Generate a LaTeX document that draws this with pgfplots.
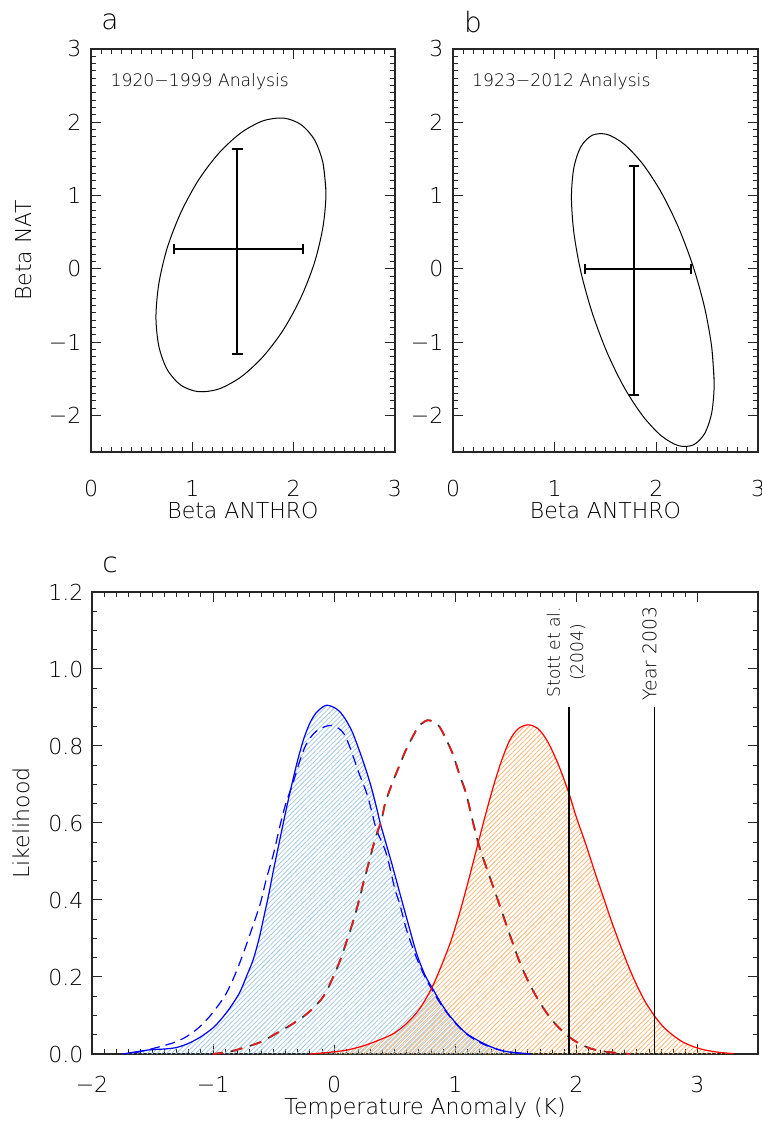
\documentclass[border=0pt]{standalone}
\usepackage{fontspec}
\IfFontExistsTF{DejaVu Sans ExtraLight}{\setmainfont{DejaVu Sans ExtraLight}}{\setmainfont{DejaVu Sans}}
\usepackage{pgfplots}
\usepackage{pgfplotstable}
\pgfplotsset{compat=1.18}
\usetikzlibrary{patterns.meta}
\definecolor{hatchblue}{RGB}{160,198,225}
\definecolor{hatchorange}{RGB}{250,180,110}
\definecolor{dred}{RGB}{220,30,30}

\pgfplotstableread{
x y
-1.75 0.000
-1.65 0.005
-1.52 0.011
-1.40 0.013
-1.30 0.017
-1.20 0.028
-1.10 0.045
-1.00 0.068
-0.94 0.088
-0.86 0.120
-0.78 0.160
-0.72 0.205
-0.67 0.244
-0.62 0.300
-0.585 0.350
-0.54 0.415
-0.50 0.480
-0.45 0.555
-0.40 0.630
-0.35 0.700
-0.30 0.765
-0.25 0.820
-0.20 0.860
-0.15 0.886
-0.10 0.900
-0.06 0.906
0.00 0.900
0.05 0.888
0.10 0.866
0.15 0.836
0.20 0.795
0.25 0.750
0.30 0.700
0.35 0.640
0.38 0.600
0.43 0.545
0.48 0.490
0.54 0.420
0.61 0.340
0.68 0.262
0.75 0.205
0.82 0.166
0.89 0.128
0.96 0.097
1.03 0.072
1.09 0.054
1.16 0.040
1.23 0.028
1.30 0.018
1.37 0.010
1.45 0.005
1.56 0.002
1.62 0.000
}\bluesolid

\pgfplotstableread{
x y
-0.20 0.000
-0.05 0.004
0.10 0.010
0.25 0.022
0.40 0.040
0.50 0.055
0.60 0.080
0.70 0.115
0.80 0.168
0.88 0.225
0.96 0.290
1.03 0.360
1.10 0.440
1.17 0.525
1.24 0.610
1.31 0.690
1.38 0.760
1.45 0.815
1.52 0.845
1.60 0.855
1.67 0.848
1.73 0.828
1.79 0.795
1.86 0.745
1.94 0.676
2.00 0.615
2.08 0.543
2.15 0.475
2.22 0.410
2.29 0.345
2.36 0.285
2.43 0.228
2.50 0.178
2.57 0.135
2.65 0.097
2.72 0.070
2.80 0.048
2.88 0.031
2.96 0.020
3.04 0.012
3.14 0.006
3.22 0.003
3.30 0.001
}\redsolid

\pgfplotstableread{
x y
-1.65 0.003
-1.55 0.010
-1.44 0.019
-1.32 0.030
-1.22 0.045
-1.12 0.068
-1.03 0.097
-0.96 0.125
-0.89 0.158
-0.82 0.205
-0.75 0.262
-0.68 0.325
-0.61 0.391
-0.56 0.455
-0.50 0.521
-0.45 0.590
-0.40 0.650
-0.34 0.704
-0.28 0.765
-0.23 0.805
-0.17 0.832
-0.12 0.844
-0.06 0.852
-0.01 0.853
0.04 0.845
0.08 0.832
0.12 0.805
0.16 0.770
0.21 0.725
0.27 0.676
0.31 0.630
0.35 0.582
0.43 0.521
0.50 0.430
0.54 0.391
0.60 0.320
0.68 0.250
0.75 0.200
0.82 0.160
0.89 0.125
0.96 0.095
1.03 0.070
1.10 0.050
1.20 0.030
1.30 0.017
1.40 0.008
1.50 0.003
1.58 0.000
}\bluedashed

\pgfplotstableread{
x y
-1.00 0.000
-0.85 0.007
-0.72 0.019
-0.60 0.032
-0.475 0.054
-0.36 0.075
-0.255 0.097
-0.17 0.120
-0.09 0.149
-0.03 0.185
0.05 0.244
0.10 0.290
0.16 0.348
0.21 0.405
0.24 0.443
0.28 0.490
0.32 0.538
0.36 0.580
0.39 0.605
0.42 0.650
0.48 0.704
0.54 0.750
0.59 0.788
0.65 0.825
0.70 0.852
0.77 0.867
0.82 0.862
0.87 0.850
0.92 0.820
0.98 0.779
1.03 0.730
1.09 0.676
1.14 0.610
1.20 0.537
1.29 0.455
1.37 0.383
1.45 0.310
1.53 0.240
1.59 0.197
1.65 0.160
1.71 0.128
1.77 0.100
1.83 0.077
1.89 0.058
1.95 0.042
2.03 0.026
2.11 0.015
2.20 0.008
2.30 0.004
2.44 0.000
}\reddashed

\pgfplotsset{
  myaxis/.style={
    scale only axis,
    anchor=south west,
    axis line style={line width=0.55pt, black!85},
    tick align=inside,
    major tick length=5pt,
    minor tick length=2.5pt,
    every tick/.style={line width=0.5pt, black!85},
    ticklabel style={font=\fontsize{11}{13}\selectfont},
    label style={font=\fontsize{11}{13}\selectfont},
  },
}

\begin{document}
\begin{tikzpicture}
% ---------------- panel a
\begin{axis}[myaxis, at={(45.5pt,336pt)}, width=152pt, height=201.5pt,
  xmin=0, xmax=3, ymin=-2.5, ymax=3,
  xtick={0,1,2,3}, xticklabels={0,1,2,3}, minor x tick num=9,
  ytick={-2,-1,0,1,2,3}, yticklabels={−2,−1,0,1,2,3}, minor y tick num=9,
  xticklabel style={yshift=-10.8pt},
  yticklabel style={xshift=-1.3pt},
  xlabel={Beta ANTHRO}, ylabel={Beta NAT},
  xlabel style={at={(axis description cs:0.5,-0.144)}, anchor=center},
  ylabel style={at={(axis description cs:-0.22,0.5)}, anchor=center},
]
\addplot[black, line width=0.5pt, smooth] coordinates {
(2.319,1.038) (2.290,1.440) (2.207,1.757) (2.073,1.968) (1.900,2.057) (1.697,2.019)
(1.480,1.856) (1.263,1.580) (1.060,1.209) (0.887,0.768) (0.753,0.289) (0.670,-0.198)
(0.641,-0.658) (0.670,-1.060) (0.753,-1.377) (0.887,-1.588) (1.060,-1.677) (1.263,-1.639)
(1.480,-1.476) (1.697,-1.200) (1.900,-0.829) (2.073,-0.388) (2.207,0.091) (2.290,0.578)
(2.319,1.038) (2.290,1.440)};
\addplot[black, line width=0.9pt, mark=none,
  error bars/.cd, x dir=both, x explicit, y dir=both, y explicit,
  error bar style={line width=0.9pt, black},
  error mark options={rotate=90, black, mark size=2.6pt, line width=0.9pt}]
  coordinates {(1.444,0.268) += (0.648,1.370) -= (0.622,1.431)};
\node[anchor=west, inner sep=0pt, font=\fontsize{8.6}{10}\selectfont] at (axis cs:0.19,2.56) {1920−1999 Analysis};
\end{axis}
% ---------------- panel b
\begin{axis}[myaxis, at={(226.5pt,336pt)}, width=152.5pt, height=201.5pt,
  xmin=0, xmax=3, ymin=-2.5, ymax=3,
  xtick={0,1,2,3}, xticklabels={0,1,2,3}, minor x tick num=9,
  ytick={-2,-1,0,1,2,3}, yticklabels={−2,−1,0,1,2,3}, minor y tick num=9,
  xticklabel style={yshift=-10.8pt},
  yticklabel style={xshift=-1.3pt},
  xlabel={Beta ANTHRO},
  xlabel style={at={(axis description cs:0.5,-0.144)}, anchor=center},
]
\addplot[black, line width=0.5pt, smooth] coordinates {
(2.569,-1.560) (2.545,-1.072) (2.475,-0.530) (2.363,0.028) (2.218,0.564) (2.049,1.042)
(1.867,1.429) (1.685,1.699) (1.516,1.834) (1.371,1.824) (1.259,1.669) (1.189,1.382)
(1.165,0.980) (1.189,0.492) (1.259,-0.050) (1.371,-0.608) (1.516,-1.144) (1.685,-1.622)
(1.867,-2.009) (2.049,-2.279) (2.218,-2.414) (2.363,-2.404) (2.475,-2.249) (2.545,-1.962)
(2.569,-1.560) (2.545,-1.072)};
\addplot[black, line width=0.9pt, mark=none,
  error bars/.cd, x dir=both, x explicit, y dir=both, y explicit,
  error bar style={line width=0.9pt, black},
  error mark options={rotate=90, black, mark size=2.6pt, line width=0.9pt}]
  coordinates {(1.782,0.0) += (0.561,1.398) -= (0.485,1.721)};
\node[anchor=west, inner sep=0pt, font=\fontsize{8.6}{10}\selectfont] at (axis cs:0.185,2.56) {1923−2012 Analysis};
\end{axis}
% ---------------- panel c
\begin{axis}[myaxis, at={(46pt,35pt)}, width=333pt, height=231pt,
  xmin=-2, xmax=3.5, ymin=0, ymax=1.2,
  xtick={-2,-1,0,1,2,3}, xticklabels={−2,−1,0,1,2,3}, minor x tick num=9,
  ytick={0,0.2,0.4,0.6,0.8,1.0,1.2}, yticklabels={0.0,0.2,0.4,0.6,0.8,1.0,1.2}, minor y tick num=3,
  xticklabel style={yshift=-7.6pt},
  yticklabel style={xshift=-0.8pt},
  xlabel={Temperature Anomaly (K)}, ylabel={Likelihood},
  xlabel style={at={(axis description cs:0.5,-0.118)}, anchor=center},
  ylabel style={at={(axis description cs:-0.1066,0.5)}, anchor=center},
]
\addplot[draw=none, pattern={Lines[angle=45,distance=1.7pt,line width=0.38pt]}, pattern color=hatchblue, smooth] table[x=x,y=y] {\bluesolid} \closedcycle;
\addplot[draw=none, pattern={Lines[angle=45,distance=1.7pt,line width=0.38pt,xshift=0.85pt]}, pattern color=hatchorange, smooth] table[x=x,y=y] {\redsolid} \closedcycle;
\addplot[blue, line width=0.6pt, dash pattern=on 5pt off 3pt, smooth] table[x=x,y=y] {\bluedashed};
\addplot[blue, line width=0.6pt, smooth] table[x=x,y=y] {\bluesolid};
\addplot[black!80, line width=0.8pt, dash pattern=on 6pt off 4pt, dash phase=1.2pt, smooth] table[x=x,y=y] {\reddashed};
\addplot[dred, line width=0.9pt, dash pattern=on 5pt off 5pt, smooth] table[x=x,y=y] {\reddashed};
\addplot[red, line width=0.6pt, smooth] table[x=x,y=y] {\redsolid};
\addplot[black, line width=1.1pt] coordinates {(1.94,0) (1.94,0.9)};
\addplot[black, line width=0.7pt] coordinates {(2.645,0) (2.645,0.9)};
\node[rotate=90, anchor=west, inner sep=0pt, align=center, font=\fontsize{8.6}{11.7}\selectfont] at (axis cs:1.915,0.925) {Stott et al.\\(2004)};
\node[rotate=90, anchor=west, inner sep=0pt, font=\fontsize{9.4}{11.7}\selectfont] at (axis cs:2.605,0.918) {Year 2003};
\end{axis}
\node[font=\fontsize{14}{16}\selectfont] at (55pt,551pt) {a};
\node[font=\fontsize{14}{16}\selectfont] at (236.5pt,551pt) {b};
\node[font=\fontsize{14}{16}\selectfont] at (55pt,279.5pt) {c};
\pgfresetboundingbox
\path[use as bounding box] (0,0) rectangle (380.5pt,562pt);
\end{tikzpicture}
\end{document}
